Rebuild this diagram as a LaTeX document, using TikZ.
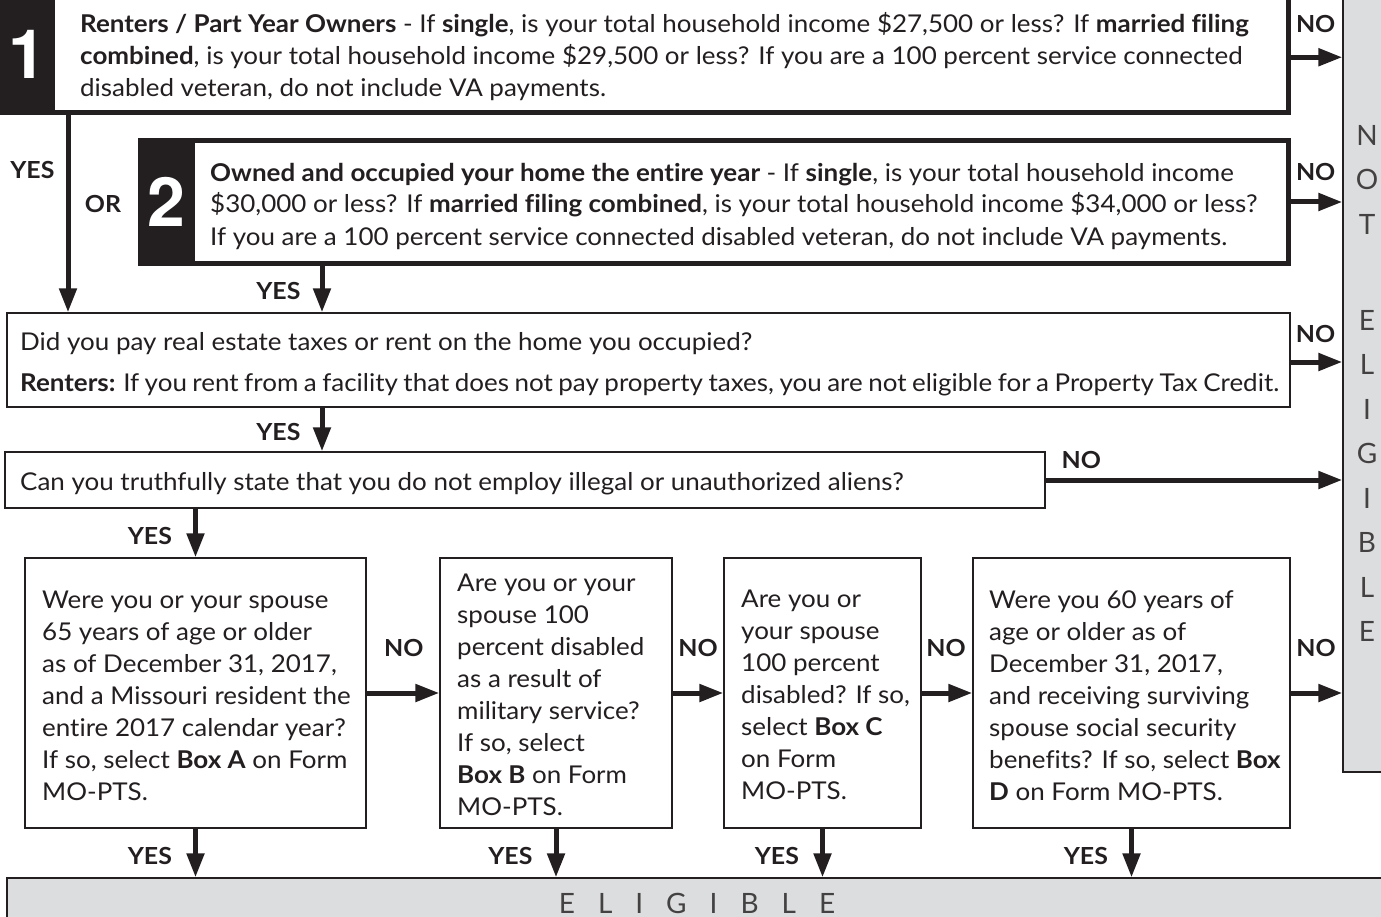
\documentclass[tikz,border=0pt]{standalone}
\usepackage{fontspec}
\setmainfont{Lato}[FakeStretch=1.06, Ligatures=NoCommon]
\newfontfamily\digitfont{TeX Gyre Heros}
\newfontfamily\panelfont{Lato}
\usetikzlibrary{arrows.meta,positioning}

\definecolor{ink}{HTML}{231F20}
\definecolor{panel}{HTML}{DCDDDE}

\tikzset{
  bigq/.style={draw=ink, line width=5pt, fill=white, inner sep=0pt},
  question/.style={draw=ink, line width=1.3pt, fill=white, inner sep=0pt},
  tab/.style={fill=ink, text=white, inner sep=0pt, font=\digitfont\bfseries\fontsize{68}{68}\selectfont},
  txt/.style={inner sep=0pt, align=left, anchor=west, text=ink, font=\fontsize{24.5}{32}\selectfont},
  lbl/.style={text=ink, font=\bfseries\fontsize{23.5}{24}\selectfont},
  arr/.style={draw=ink, line width=5pt, -{Triangle[length=24pt,width=17pt]}},
  result/.style={draw=ink, line width=1.3pt, fill=panel, text=ink!85, inner sep=0pt, align=center},
}

\begin{document}
\begin{tikzpicture}[x=1pt,y=-1pt]
  \useasboundingbox (0,0) rectangle (1381,917);

  % outcome panels
  \node[result, minimum width=48pt, minimum height=777pt,
        font=\panelfont\fontsize{28}{44.5}\selectfont] (ne) at (1367,383.5)
        {N\\O\\T\\[51.5pt]E\\L\\I\\G\\I\\B\\L\\E};
  \node[result, minimum width=1380pt, minimum height=50pt,
        font=\panelfont\fontsize{28}{28}\selectfont] (el) at (697,903)
        {\spaceskip=23pt E L I G I B L E};

  % income tests
  \node[bigq, minimum width=1286pt, minimum height=118.5pt] (q1) at (645.5,53.25) {};
  \node[tab, minimum width=55pt, minimum height=121pt, anchor=north west] (n1) at (0,-6) {1};
  \node[txt] (t1) at (80,57) {\textbf{Renters / Part Year Owners} - If \textbf{single}, is your total household income \$27,500 or less? If \textbf{married filing}\\
    \textbf{combined}, is your total household income \$29,500 or less? If you are a 100 percent service connected\\
    disabled veteran, do not include VA payments.};

  \node[bigq, minimum width=1148pt, minimum height=123pt] (q2) at (714.5,202) {};
  \node[tab, minimum width=57pt, minimum height=128pt] (n2) at (166.5,202) {2};
  \node[txt] (t2) at (210,206) {\textbf{Owned and occupied your home the entire year} - If \textbf{single}, is your total household income\\
    \$30,000 or less? If \textbf{married filing combined}, is your total household income \$34,000 or less?\\
    If you are a 100 percent service connected disabled veteran, do not include VA payments.};
  \node[lbl] (or) at (103,204) {OR};

  % taxes and aliens
  \node[question, minimum width=1283pt, minimum height=94pt] (q3) at (648.5,360) {};
  \node[txt] (t3) at (20,364.5) {Did you pay real estate taxes or rent on the home you occupied?\\[9pt]
    {\spaceskip=5.5pt \textbf{Renters:} If you rent from a facility that does not pay property taxes, you are not eligible for a Property Tax Credit.}};

  \node[question, minimum width=1040pt, minimum height=56pt] (q4) at (525,480) {};
  \node[txt] (t4) at (20,483.5) {Can you truthfully state that you do not employ illegal or unauthorized aliens?};

  % boxes A to D
  \node[question, minimum width=341pt, minimum height=270pt] (qa) at (195.5,693) {};
  \node[txt] (ta) at (42,696) {Were you or your spouse\\65 years of age or older\\as of December 31, 2017,\\and a Missouri resident the\\entire 2017 calendar year?\\If so, select \textbf{Box A} on Form\\MO-PTS.};
  \node[question, minimum width=232pt, minimum height=270pt] (qb) at (556,693) {};
  \node[txt] (tb) at (457,695) {Are you or your\\spouse 100\\percent disabled\\as a result of\\military service?\\If so, select\\\textbf{Box B} on Form\\MO-PTS.};
  \node[question, minimum width=197pt, minimum height=270pt] (qc) at (822.5,693) {};
  \node[txt] (tc) at (741,695) {Are you or\\your spouse\\100 percent\\disabled? If so,\\select \textbf{Box C}\\on Form\\MO-PTS.};
  \node[question, minimum width=317pt, minimum height=270pt] (qd) at (1131.5,693) {};
  \node[txt] (td) at (989,696) {Were you 60 years of\\age or older as of\\December 31, 2017,\\and receiving surviving\\spouse social security\\benefits? If so, select \textbf{Box}\\\textbf{D} on Form MO-PTS.};

  \coordinate (c1) at (68,0);
  \coordinate (c2) at (322,0);

  % no branches
  \draw[arr] ([yshift=-4pt]q1.east) -- ([yshift=-4pt]q1.east -| ne.west) node[lbl, pos=.48, above=18.7pt] {NO};
  \draw[arr] (q2.east) -- (q2.east -| ne.west) node[lbl, pos=.48, above=15.7pt] {NO};
  \draw[arr] ([yshift=-2pt]q3.east) -- ([yshift=-2pt]q3.east -| ne.west) node[lbl, pos=.48, above=13.7pt] {NO};
  \draw[arr] (q4.east) -- (q4.east -| ne.west) node[lbl, pos=.12, above=5.7pt] {NO};
  \draw[arr] (qa) -- (qb) node[lbl, pos=.51, above=30pt] {NO};
  \draw[arr] (qb) -- (qc) node[lbl, pos=.5, above=30pt] {NO};
  \draw[arr] (qc) -- (qd) node[lbl, pos=.48, above=30pt] {NO};
  \draw[arr] (qd.east) -- (qd.east -| ne.west) node[lbl, pos=.49, above=30pt] {NO};

  % yes branches
  \draw[arr] (c1 |- q1.south) -- (c1 |- q3.north) node[lbl, pos=.28, left=7.7pt] {YES};
  \draw[arr] (c2 |- q2.south) -- (c2 |- q3.north) node[lbl, pos=.55, left=15.7pt] {YES};
  \draw[arr] (c2 |- q3.south) -- (c2 |- q4.north) node[lbl, pos=.56, left=15.7pt] {YES};
  \draw[arr] (qa.north |- q4.south) -- (qa.north) node[lbl, pos=.57, left=17.7pt] {YES};
  \draw[arr] (qa.south) -- (qa.south |- el.north) node[lbl, pos=.56, left=17.7pt] {YES};
  \draw[arr] (qb.south) -- (qb.south |- el.north) node[lbl, pos=.56, left=17.7pt] {YES};
  \draw[arr] (qc.south) -- (qc.south |- el.north) node[lbl, pos=.56, left=17.7pt] {YES};
  \draw[arr] (qd.south) -- (qd.south |- el.north) node[lbl, pos=.56, left=17.7pt] {YES};
\end{tikzpicture}
\end{document}
